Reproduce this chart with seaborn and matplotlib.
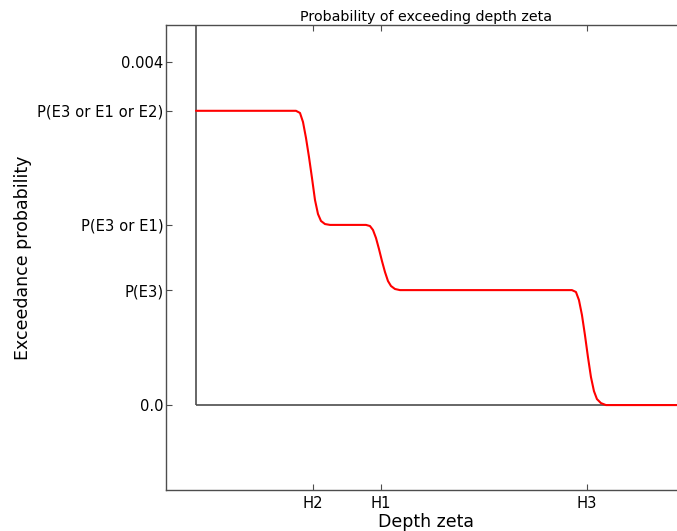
"""
Exceedance probability step curve against depth zeta
"""

import seaborn as sns
import matplotlib.pyplot as plt

# depth levels (x tick positions) and their labels
depth_ticks = [1.17, 1.85, 3.91]
depth_labels = ["H2", "H1", "H3"]

# probability levels (y tick positions) and their labels
prob_ticks = [0.0, 0.00134, 0.0021, 0.00343, 0.004]
prob_labels = ["0.0", "P(E3)", "P(E3 or E1)", "P(E3 or E1 or E2)", "0.004"]

# red curve
depth = [0.00, 1.00, 1.04, 1.07, 1.10, 1.13, 1.16, 1.19, 1.22, 1.25, 1.29, 1.34,
         1.70, 1.74, 1.77, 1.80, 1.83, 1.86, 1.89, 1.92, 1.95, 1.99, 2.04,
         3.76, 3.80, 3.83, 3.86, 3.89, 3.92, 3.95, 3.98, 4.01, 4.05, 4.10, 4.90]
exceed_prob = [0.00343, 0.00343, 0.003405, 0.0033, 0.003114, 0.002892, 0.002647,
               0.002391, 0.002227, 0.002146, 0.00211, 0.0021,
               0.0021, 0.002087, 0.002041, 0.001948, 0.001819, 0.001679,
               0.001551, 0.001446, 0.001388, 0.001353, 0.00134,
               0.00134, 0.001318, 0.001224, 0.00105, 0.000816, 0.00056,
               0.000327, 0.000163, 0.00007, 0.000023, 0.0, 0.0]

x_min, x_max = -0.30, 4.90
y_min, y_max = -0.00099, 0.00443
line_grey = "0.3"

sns.set_style("white", {"xtick.direction": "in", "ytick.direction": "in",
                        "axes.edgecolor": line_grey, "text.color": "black",
                        "axes.labelcolor": "black"})
plt.rcParams["font.family"] = ["DejaVu Sans"]

fig = plt.figure(figsize=(6.77, 5.31), dpi=100)
ax = fig.add_axes([0.2452, 0.0772, 0.768, 0.8757])

# axis lines through the origin
ax.vlines(0, 0, y_max, color=line_grey, lw=1.2)
ax.hlines(0, 0, x_max, color=line_grey, lw=1.2)
sns.lineplot(x=depth, y=exceed_prob, color="red", lw=1.5, ax=ax, sort=False)

ax.set_xlim(x_min, x_max)
ax.set_ylim(y_min, y_max)
ax.set_xticks(depth_ticks)
ax.set_xticklabels(depth_labels)
ax.set_yticks(prob_ticks)
ax.set_yticklabels(prob_labels)
ax.tick_params(axis="both", which="both", direction="in", length=4, width=0.8,
               labelsize=10.6, top=True, right=True, bottom=True, left=True,
               color=line_grey, labelcolor="black", pad=4)
ax.tick_params(axis="y", pad=2)
for spine in ax.spines.values():
    spine.set_linewidth(1.0)

ax.set_title("Probability of exceeding depth zeta", fontsize=10.3, pad=3,
             color="black")
ax.set_xlabel("Depth zeta", fontsize=12.5, labelpad=2)
ax.set_ylabel("Exceedance probability", fontsize=12.5)
ax.yaxis.set_label_coords(-0.258, 0.5)

plt.savefig("out.png", dpi=100)
